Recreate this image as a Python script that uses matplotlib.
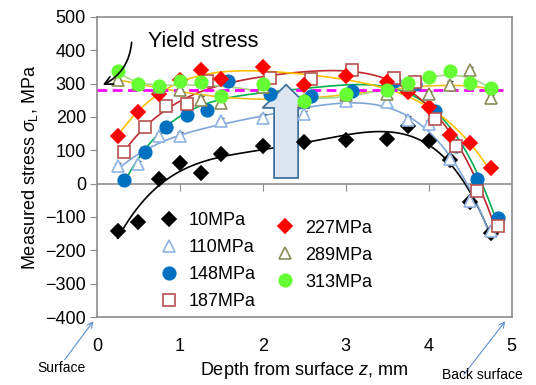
import numpy as np
import matplotlib
matplotlib.use('Agg')
import matplotlib.pyplot as plt
from matplotlib.lines import Line2D
from matplotlib.patches import FancyArrow, FancyArrowPatch

plt.rcParams['font.family'] = ['Liberation Sans', 'DejaVu Sans']
plt.rcParams['mathtext.fontset'] = 'custom'
plt.rcParams['mathtext.rm'] = 'Liberation Sans'
plt.rcParams['mathtext.it'] = 'Liberation Sans:italic'

# depth positions (mm)
x_a = [0.25, 0.5, 0.75, 1.0, 1.25, 1.5, 2.0, 2.5, 3.0, 3.5, 3.75, 4.0, 4.25, 4.5, 4.75]
x_b = [0.33, 0.58, 0.83, 1.08, 1.33, 1.58, 2.08, 2.58, 3.08, 3.58, 3.83, 4.08, 4.33, 4.58, 4.83]

# measured stress (MPa) per applied stress level
s10 = [-143, -116, 15, 62, 32, 90, 114, 124, 130, 134, 172, 127, 70, -55, -148]
x110 = [0.25, 0.5, 0.75, 1.0, 1.5, 2.0, 2.5, 3.0, 3.5, 3.75, 4.0, 4.25, 4.5, 4.75]
s110 = [53, 59, 142, 144, 188, 198, 209, 247, 245, 192, 180, 74, -52, -142]
s148 = [12, 95, 169, 207, 220, 309, 269, 262, 279, 307, 299, 217, 112, 14, -103]
x187 = [0.33, 0.58, 0.83, 1.08, 1.33, 2.08, 2.58, 3.08, 3.58, 3.83, 4.08, 4.33, 4.58, 4.83]
s187 = [95, 169, 232, 238, 307, 317, 315, 341, 317, 304, 193, 112, -23, -128]
s227 = [143, 215, 268, 312, 342, 315, 350, 295, 323, 305, 274, 230, 145, 122, 46]
s289 = [312, 300, 290, 282, 252, 242, 290, 250, 265, 270, 295, 269, 297, 340, 257]
s313 = [338, 298, 294, 308, 305, 262, 298, 247, 269, 280, 302, 320, 339, 302, 288]

yield_stress = 282

fig = plt.figure(figsize=(5.36, 3.85), dpi=100)
ax = fig.add_axes([0.181, 0.1766, 0.7737, 0.7794])

series = [
    # x, y, label, marker, face, edge, ms, line colour, fit degree, errbar
    (x_a, s10, '10MPa', 'D', 'black', 'black', 7, 'black', 4, False),
    (x110, s110, '110MPa', '^', 'white', '#8eb4e3', 8, '#7ea6d8', 4, True),
    (x_b, s148, '148MPa', 'o', '#0070c0', '#0070c0', 9, '#00b050', 4, False),
    (x187, s187, '187MPa', 's', 'white', '#b5524f', 8, '#c0282d', 4, True),
    (x_a, s227, '227MPa', 'D', '#ff0000', '#ff0000', 7, '#ffc000', 4, False),
    (x_a, s289, '289MPa', '^', 'white', '#8c8c5a', 8, '#f0c020', 4, True),
    (x_a, s313, '313MPa', 'o', '#66ff33', '#66ff33', 9, '#a9d68a', 6, False),
]

handles = []
for xs, ys, lab, mk, fc, ec, ms, lc, deg, eb in series:
    xs = np.array(xs)
    ys = np.array(ys)
    p = np.polyfit(xs, ys, deg)
    xf = np.linspace(xs.min(), xs.max(), 200)
    ax.plot(xf, np.polyval(p, xf), color=lc, lw=1.2, zorder=2)
    if eb:
        ax.errorbar(xs, ys, yerr=10, fmt='none', ecolor='#333333', elinewidth=0.8,
                    capsize=2.5, zorder=4)
    ax.plot(xs, ys, linestyle='none', marker=mk, ms=ms, mfc=fc, mec=ec, mew=1.2, zorder=5)
    handles.append(Line2D([], [], linestyle='none', marker=mk, ms=ms, mfc=fc, mec=ec,
                          mew=1.2, label=lab))

# yield stress line
ax.plot([0, 4.9], [yield_stress, yield_stress], color='#ff00ff', lw=2,
        linestyle=(0, (3.5, 2)), zorder=3)

# big hollow arrow
ax.add_patch(FancyArrow(2.28, 17, 0, 280, width=0.29, head_width=0.57, head_length=70,
                        length_includes_head=True, fc='#dce6f2', ec='#41719c', lw=1.3,
                        zorder=3.5))

ax.text(0.61, 426, 'Yield stress', fontsize=15.5, va='center', ha='left')
ax.add_patch(FancyArrowPatch((0.42, 432), (0.04, 292), connectionstyle='arc3,rad=-0.3',
                             arrowstyle='->,head_length=6,head_width=3', color='black',
                             lw=1.2, zorder=6))

ax.set_xlim(0, 5)
ax.set_ylim(-400, 500)
ax.set_yticks(np.arange(-400, 501, 100))
ax.set_xticks(range(6))
gray = '#8c8c8c'
for sp in ax.spines.values():
    sp.set_color(gray)
    sp.set_linewidth(1.2)
ax.tick_params(axis='y', direction='out', length=5, color=gray, labelsize=13, pad=3)
ax.tick_params(axis='x', length=0, labelsize=13, pad=15)

# horizontal axis line at zero with its tick marks
zx = ax.secondary_xaxis(400 / 900)
zx.set_xticks([1, 2, 3, 4])
zx.tick_params(direction='out', length=5, color=gray, labelbottom=False, labeltop=False)
zx.spines['bottom'].set_color(gray)
zx.spines['bottom'].set_linewidth(1.2)

ax.set_ylabel(r'Measured stress $\sigma_\mathrm{L}$, MPa', fontsize=13, labelpad=4)
ax.set_xlabel(r'Depth from surface $z$, mm', fontsize=13, labelpad=4)

leg1 = ax.legend(handles=handles[:4], loc='upper left', bbox_to_anchor=(0.13, 0.38),
                 frameon=False, fontsize=13, handlelength=1.0, handletextpad=0.6,
                 labelspacing=0.56, borderpad=0)
ax.add_artist(leg1)
ax.legend(handles=handles[4:], loc='upper left', bbox_to_anchor=(0.41, 0.355),
          frameon=False, fontsize=13, handlelength=1.0, handletextpad=0.6,
          labelspacing=0.56, borderpad=0)

# surface annotations
blue = '#5b8fd0'
fig.text(37, 385 - 368, 'Surface', fontsize=10, transform=None, va='center')
fig.text(442, 385 - 375, 'Back surface', fontsize=10, transform=None, va='center')
fig.add_artist(FancyArrowPatch((63, 385 - 362), (95, 385 - 319), transform=None,
                               arrowstyle='->,head_length=4,head_width=2', color=blue, lw=0.8))
fig.add_artist(FancyArrowPatch((462, 385 - 377), (507, 385 - 319), transform=None,
                               arrowstyle='->,head_length=4,head_width=2', color=blue, lw=0.8))

fig.savefig('out.png', dpi=100)
